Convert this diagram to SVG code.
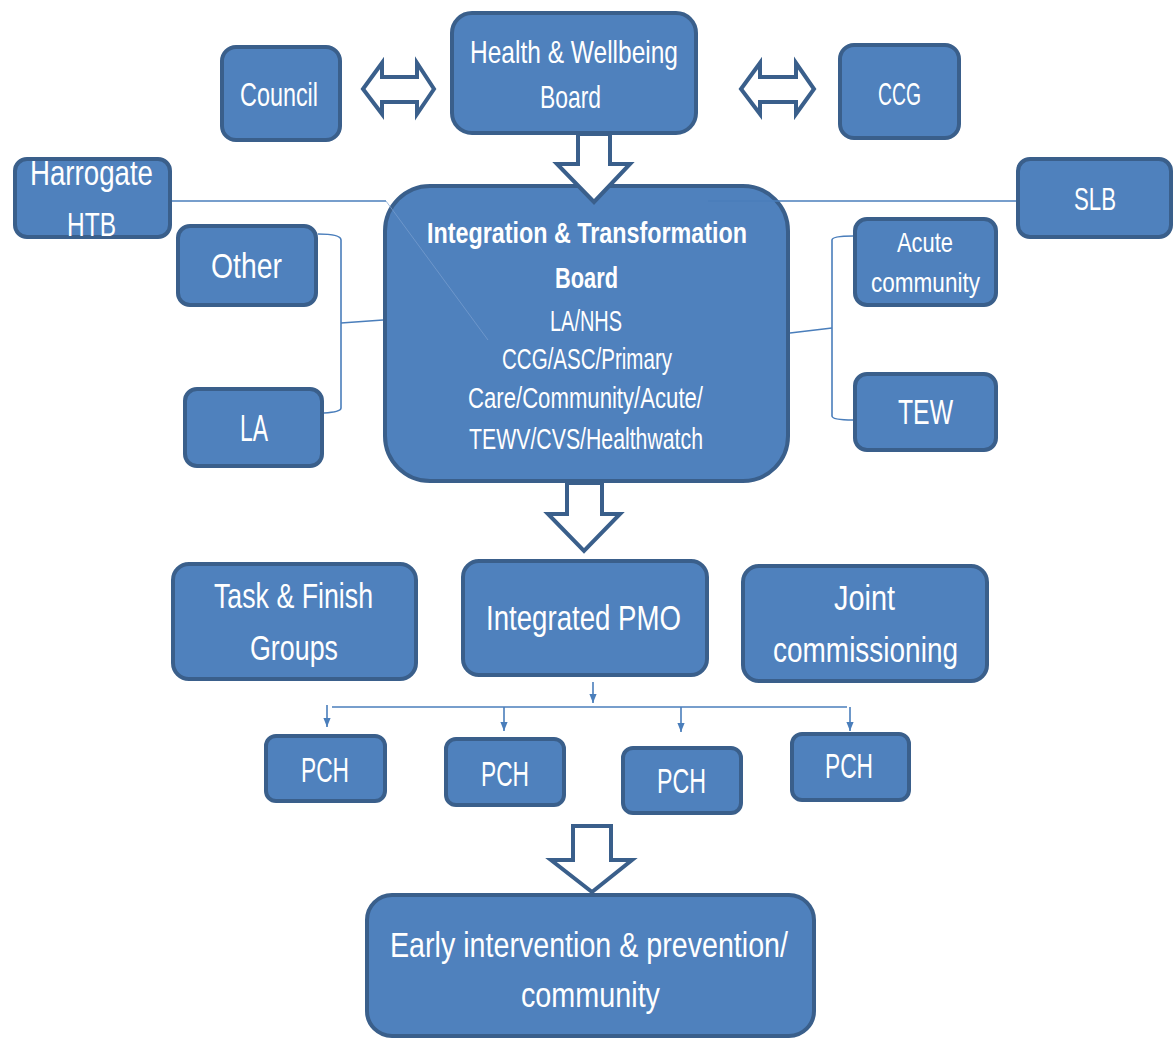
<svg xmlns="http://www.w3.org/2000/svg" width="1174" height="1039" viewBox="0 0 1174 1039">
<defs>
<style>
.box{fill:#4F81BD;stroke:#3A5F8B;stroke-width:4}
.t{fill:#FFFFFF;font-family:"Liberation Sans","Noto Sans",sans-serif}
.b{font-weight:bold}
.ln{fill:none;stroke:#4A7EBB;stroke-width:1.6}
.faint{fill:none;stroke:#7A9FD0;stroke-width:1;opacity:0.7}
.blk{fill:#FFFFFF;stroke:#3A5F8B;stroke-width:4;stroke-linejoin:miter}
</style>
<marker id="ah" viewBox="0 0 10 8" refX="10" refY="4" markerWidth="9" markerHeight="8" markerUnits="userSpaceOnUse" orient="auto">
<path d="M0,0 L10,4 L0,8 z" fill="#4A7EBB"/>
</marker>
</defs>
<rect width="1174" height="1039" fill="#FFFFFF"/>

<g id="hwb"><rect class="box" x="452" y="13" width="244" height="120" rx="20"/>
<text class="t" x="470" y="63" font-size="32" textLength="208" lengthAdjust="spacingAndGlyphs">Health &amp; Wellbeing</text>
<text class="t" x="540" y="108" font-size="32" textLength="61" lengthAdjust="spacingAndGlyphs">Board</text></g>

<g id="council"><rect class="box" x="222" y="47" width="118" height="93" rx="14"/>
<text class="t" x="240" y="106" font-size="33" textLength="78" lengthAdjust="spacingAndGlyphs">Council</text></g>

<g id="ccg"><rect class="box" x="840" y="45" width="119" height="93" rx="14"/>
<text class="t" x="878" y="105" font-size="32" textLength="43" lengthAdjust="spacingAndGlyphs">CCG</text></g>

<g id="harrogate"><rect class="box" x="15" y="159" width="155" height="78" rx="12"/>
<text class="t" x="30" y="185" font-size="35" textLength="123" lengthAdjust="spacingAndGlyphs">Harrogate</text>
<text class="t" x="67" y="236" font-size="33" textLength="49" lengthAdjust="spacingAndGlyphs">HTB</text></g>

<g id="slb"><rect class="box" x="1018" y="159" width="153" height="78" rx="12"/>
<text class="t" x="1074" y="210" font-size="32" textLength="42" lengthAdjust="spacingAndGlyphs">SLB</text></g>

<g id="other"><rect class="box" x="178" y="226" width="138" height="79" rx="12"/>
<text class="t" x="211" y="278" font-size="35" textLength="71" lengthAdjust="spacingAndGlyphs">Other</text></g>

<g id="la"><rect class="box" x="185" y="389" width="137" height="77" rx="12"/>
<text class="t" x="240" y="441" font-size="36" textLength="28" lengthAdjust="spacingAndGlyphs">LA</text></g>

<g id="acute"><rect class="box" x="855" y="219" width="141" height="86" rx="12"/>
<text class="t" x="897" y="252" font-size="28" textLength="56" lengthAdjust="spacingAndGlyphs">Acute</text>
<text class="t" x="871" y="292" font-size="28" textLength="109" lengthAdjust="spacingAndGlyphs">community</text></g>

<g id="tew"><rect class="box" x="855" y="374" width="141" height="76" rx="12"/>
<text class="t" x="898" y="424" font-size="35" textLength="55" lengthAdjust="spacingAndGlyphs">TEW</text></g>

<g id="itb"><rect class="box" x="385" y="186" width="403" height="295" rx="45"/>
<text class="t b" x="427" y="243" font-size="29" textLength="320" lengthAdjust="spacingAndGlyphs">Integration &amp; Transformation</text>
<text class="t b" x="555" y="288" font-size="29" textLength="63" lengthAdjust="spacingAndGlyphs">Board</text>
<text class="t" x="550" y="331" font-size="29" textLength="72" lengthAdjust="spacingAndGlyphs">LA/NHS</text>
<text class="t" x="502" y="369" font-size="29" textLength="170" lengthAdjust="spacingAndGlyphs">CCG/ASC/Primary</text>
<text class="t" x="468" y="408" font-size="29" textLength="235" lengthAdjust="spacingAndGlyphs">Care/Community/Acute/</text>
<text class="t" x="469" y="449" font-size="29" textLength="234" lengthAdjust="spacingAndGlyphs">TEWV/CVS/Healthwatch</text></g>

<g id="task"><rect class="box" x="173" y="564" width="243" height="115" rx="16"/>
<text class="t" x="214" y="608" font-size="35" textLength="159" lengthAdjust="spacingAndGlyphs">Task &amp; Finish</text>
<text class="t" x="250" y="660" font-size="35" textLength="88" lengthAdjust="spacingAndGlyphs">Groups</text></g>

<g id="pmo"><rect class="box" x="463" y="561" width="244" height="114" rx="16"/>
<text class="t" x="486" y="630" font-size="35" textLength="195" lengthAdjust="spacingAndGlyphs">Integrated PMO</text></g>

<g id="joint"><rect class="box" x="743" y="566" width="244" height="115" rx="16"/>
<text class="t" x="834" y="610" font-size="35" textLength="61" lengthAdjust="spacingAndGlyphs">Joint</text>
<text class="t" x="773" y="662" font-size="35" textLength="185" lengthAdjust="spacingAndGlyphs">commissioning</text></g>

<g id="pch1"><rect class="box" x="266" y="736" width="119" height="65" rx="10"/>
<text class="t" x="301" y="782" font-size="35" textLength="48" lengthAdjust="spacingAndGlyphs">PCH</text></g>
<g id="pch2"><rect class="box" x="446" y="739" width="118" height="66" rx="10"/>
<text class="t" x="481" y="786" font-size="35" textLength="48" lengthAdjust="spacingAndGlyphs">PCH</text></g>
<g id="pch3"><rect class="box" x="623" y="748" width="118" height="65" rx="10"/>
<text class="t" x="657" y="793" font-size="35" textLength="49" lengthAdjust="spacingAndGlyphs">PCH</text></g>
<g id="pch4"><rect class="box" x="792" y="734" width="117" height="66" rx="10"/>
<text class="t" x="825" y="778" font-size="35" textLength="48" lengthAdjust="spacingAndGlyphs">PCH</text></g>

<g id="early"><rect class="box" x="367" y="895" width="447" height="141" rx="25"/>
<text class="t" x="390" y="957" font-size="35" textLength="398" lengthAdjust="spacingAndGlyphs">Early intervention &amp; prevention/</text>
<text class="t" x="521" y="1007" font-size="35" textLength="139" lengthAdjust="spacingAndGlyphs">community</text></g>

<g id="connectors">
<polygon class="blk" points="363,89 382,63 382,77 417,77 417,63 434,89 417,114 417,102 382,102 382,114"/>
<polygon class="blk" points="741,89 760,63 760,77 796,77 796,63 814,89 796,114 796,102 760,102 760,114"/>
<polygon class="blk" points="578,134 610,134 610,164 630,164 594,202 557,164 578,164"/>
<polygon class="blk" points="567,483 602,483 602,514 620,514 584,551 548,514 567,514"/>
<polygon class="blk" points="573,826 611,826 611,860 632,860 592,892 551,860 573,860"/>
<path class="ln" d="M172,201 L386,201"/>
<path class="faint" d="M386,201 L488,340"/>
<path class="ln" d="M708,201 L1016,201"/>
<path class="ln" d="M318,234 Q341,234 341,240 L341,408 Q341,412 324,413"/>
<path class="ln" d="M341,323 L383,320"/>
<path class="ln" d="M853,236 Q832,236 832,240 L832,416 Q832,420 853,420"/>
<path class="ln" d="M832,328 L790,333"/>
<path class="ln" d="M593,682 L593,703" marker-end="url(#ah)"/>
<path class="ln" d="M332,707 L847,707"/>
<path class="ln" d="M327,705 L327,727" marker-end="url(#ah)"/>
<path class="ln" d="M504,707 L504,731" marker-end="url(#ah)"/>
<path class="ln" d="M681,707 L681,732" marker-end="url(#ah)"/>
<path class="ln" d="M850,707 L850,731" marker-end="url(#ah)"/>
</g>
</svg>
